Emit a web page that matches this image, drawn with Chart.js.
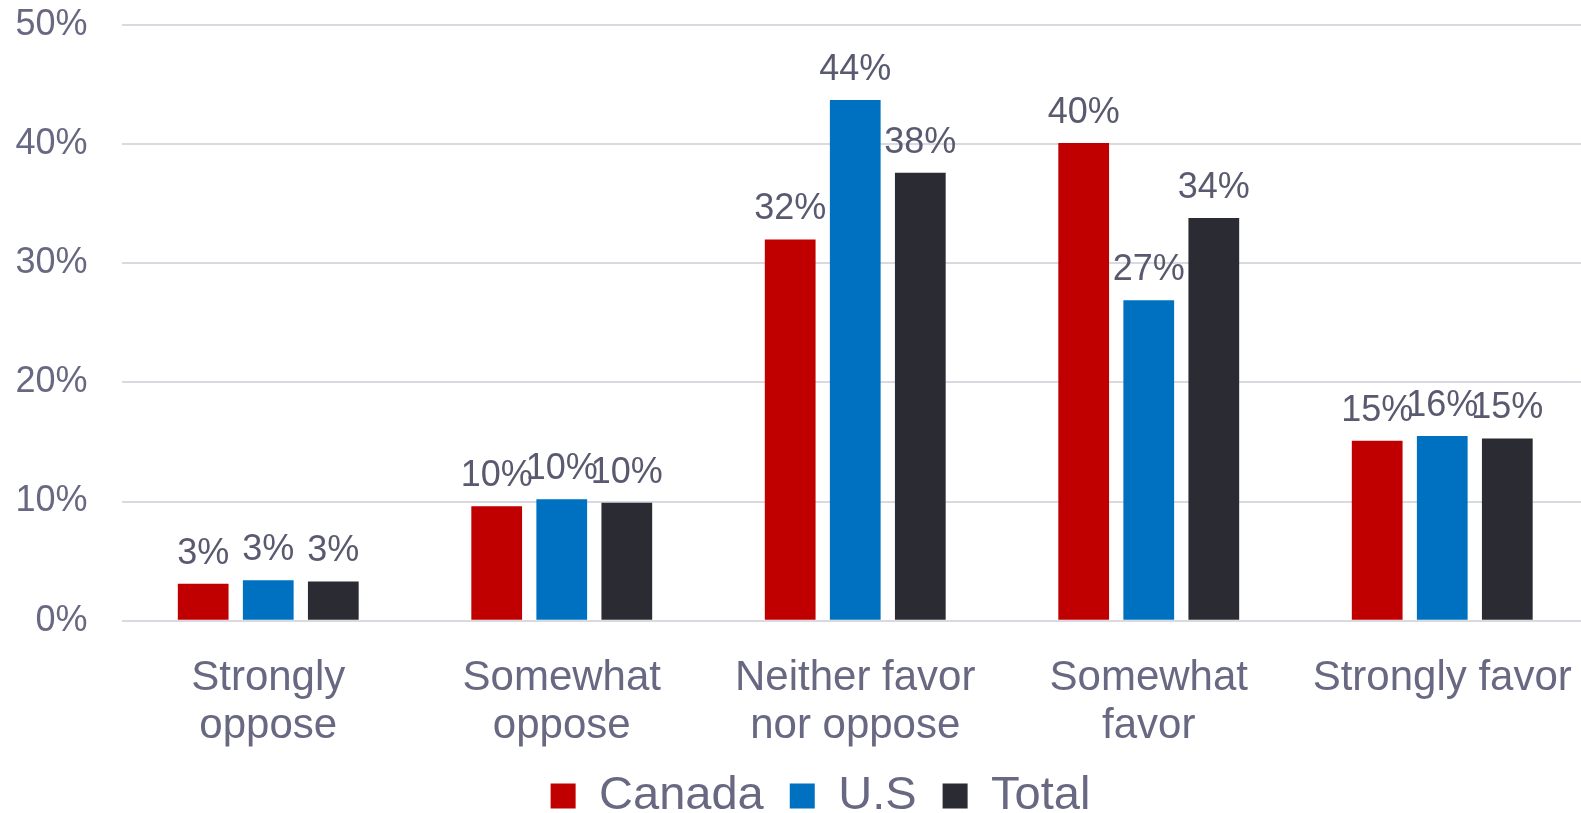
<!DOCTYPE html>
<html>
<head>
<meta charset="utf-8">
<script src="https://cdn.jsdelivr.net/npm/chart.js@4.4.0/dist/chart.umd.min.js"></script>
<style>
  html, body { margin:0; padding:0; background:#fff; overflow:hidden; }
</style>
</head>
<body>
<canvas id="chart" width="1590" height="813"></canvas>
<script>
const categories = [['Strongly','oppose'], ['Somewhat','oppose'], ['Neither favor','nor oppose'], ['Somewhat','favor'], ['Strongly favor']];
const canada = [3.1, 9.6, 32.0, 40.1, 15.1];
const us = [3.4, 10.2, 43.7, 26.9, 15.5];
const total = [3.3, 9.9, 37.6, 33.8, 15.3];
const yTicks = [0, 10, 20, 30, 40, 50];

const FONT = '"Liberation Sans", Arial, sans-serif';
const axisColor = '#686882';
const labelColor = '#595970';

// value labels above each bar
const barLabels = {
  id: 'barLabels',
  afterDatasetsDraw(chart) {
    const ctx = chart.ctx;
    ctx.save();
    ctx.font = '36px ' + FONT;
    ctx.fillStyle = labelColor;
    ctx.textAlign = 'center';
    ctx.textBaseline = 'alphabetic';
    chart.data.datasets.forEach((ds, i) => {
      chart.getDatasetMeta(i).data.forEach((bar, j) => {
        ctx.fillText(Math.round(ds.data[j]) + '%', bar.x, bar.y - 20);
      });
    });
    ctx.restore();
  }
};

// legend sits a little right of the canvas centre
const legendShift = {
  id: 'legendShift',
  beforeDraw(chart) {
    chart.legend.left += 26;
    chart.legend.right += 26;
  }
};

new Chart(document.getElementById('chart'), {
  type: 'bar',
  data: {
    labels: categories,
    datasets: [
      { label:'Canada', data:canada, backgroundColor:'#C00000' },
      { label:'U.S', data:us, backgroundColor:'#0070C0' },
      { label:'Total', data:total, backgroundColor:'#2B2B33' }
    ]
  },
  options: {
    responsive: false,
    animation: false,
    layout: { padding: { top:25, right:1, bottom:-16.5, left:0 } },
    datasets: { bar: { categoryPercentage:0.665, barPercentage:0.78 } },
    plugins: {
      tooltip: { enabled:false },
      legend: {
        position: 'bottom',
        labels: { boxWidth:25, boxHeight:25, padding:26, color:axisColor, font:{ family:FONT, size:47 } }
      }
    },
    scales: {
      x: {
        grid: { display:false },
        border: { display:false },
        ticks: { color:axisColor, padding:26, maxRotation:0, autoSkip:false, font:{ family:FONT, size:42, lineHeight:'48px' } },
        afterFit(s) { s.height = 125.8; s.paddingLeft = 0; s.paddingRight = 0; }
      },
      y: {
        min: 0, max: 50,
        afterBuildTicks(s) { s.ticks = yTicks.map(v => ({ value:v })); },
        grid: { color:'#D9D9DF', lineWidth:2, drawTicks:false },
        border: { display:false },
        ticks: { color:axisColor, padding:34, font:{ family:FONT, size:36 }, callback: v => v + '%' },
        afterFit(s) { s.width = 121.5; s.paddingTop = 0; s.paddingBottom = 0; }
      }
    }
  },
  plugins: [barLabels, legendShift]
});
</script>
</body>
</html>
